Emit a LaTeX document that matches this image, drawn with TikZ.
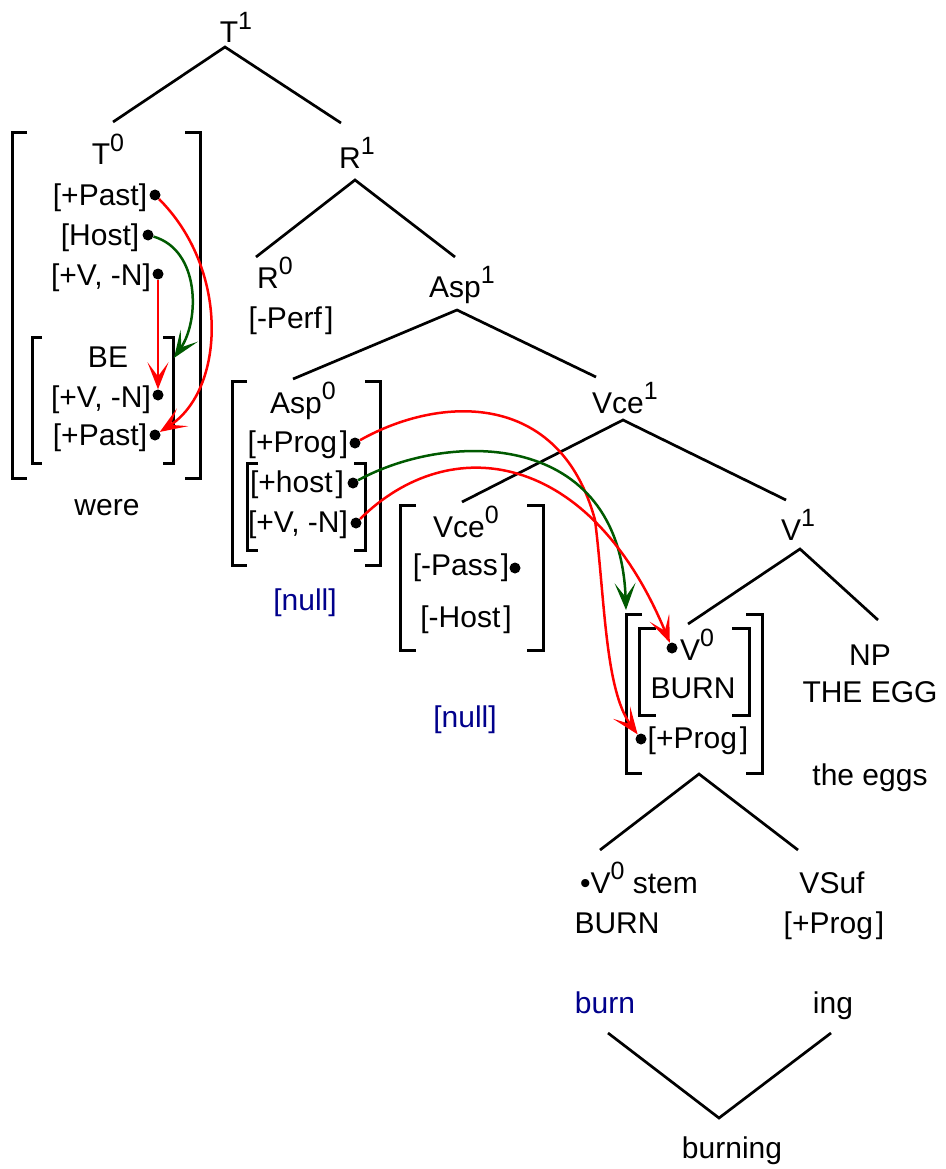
\documentclass[tikz,border=0pt]{standalone}
\usepackage{fontspec}
\setmainfont{Liberation Sans}
\usetikzlibrary{arrows.meta}
\definecolor{arrred}{RGB}{255,0,0}
\definecolor{arrgreen}{RGB}{0,90,0}
\definecolor{nullblue}{RGB}{0,0,140}
% raised index on category labels
\newcommand\hi[1]{\raisebox{0.45em}{\fontsize{25}{25}\selectfont #1}}
% small gap before a closing bracket
\newcommand\gp{\hspace{3pt}}
% square bracket box: left, top, right, bottom, serif length
\newcommand\bbox[5]{%
  \draw[brk] (#1+#5,#2) -- (#1,#2) -- (#1,#4) -- (#1+#5,#4);
  \draw[brk] (#3-#5,#2) -- (#3,#2) -- (#3,#4) -- (#3-#5,#4);}
\tikzset{
  lab/.style={anchor=base, font=\fontsize{30}{36}\selectfont, inner sep=0pt},
  nulllab/.style={lab, text=nullblue},
  edge/.style={line width=2.7pt},
  brk/.style={line width=3pt},
  fdot/.style={circle, fill=black, inner sep=0pt, minimum size=11pt},
  redarr/.style={draw=arrred, line width=2.5pt, -{Stealth[length=27pt, width=21pt, inset=14pt]}},
  greenarr/.style={draw=arrgreen, line width=2.5pt, -{Stealth[length=27pt, width=21pt, inset=14pt]}},
}
\begin{document}
\begin{tikzpicture}[x=1pt,y=-1pt]
\fill[white] (0,0) rectangle (945,1169);
\useasboundingbox (0,0) rectangle (945,1169);

% ---- labels ----
\node[lab] (T1) at (236,43) {T\hi{1}};
\node[lab] (T0) at (108,165) {T\hi{0}};
\node[lab] (tPast) at (100,205) {[+Past]};
\node[lab] (tHost) at (100,245) {[Host]};
\node[lab] (tVN) at (101,285) {[+V, -N]};
\node[lab] (BE) at (108,367) {BE};
\node[lab] (bVN) at (101,407) {[+V, -N]};
\node[lab] (bPast) at (100,445) {[+Past]};
\node[lab] (were) at (107,515) {were};

\node[lab] (R1) at (357,168) {R\hi{1}};
\node[lab] (R0) at (275,288) {R\hi{0}};
\node[lab] (Perf) at (291,328) {[-Perf\gp]};
\node[lab] (Asp1) at (462,297) {Asp\hi{1}};

\node[lab] (Asp0) at (303,413) {Asp\hi{0}};
\node[lab] (aProg) at (298,452) {[+Prog\gp]};
\node[lab] (aHost) at (297,492) {[+host\gp]};
\node[lab] (aVN) at (298,532) {[+V, -N]};
\node[nulllab] (null1) at (305,610) {[null]};

\node[lab] (Vce1) at (625,413) {Vce\hi{1}};
\node[lab] (Vce0) at (466,537) {Vce\hi{0}};
\node[lab] (Pass) at (461,575) {[-Pass\gp]};
\node[lab] (vHost) at (466,627) {[-Host\gp]};
\node[nulllab] (null2) at (465,727) {[null]};

\node[lab] (V1) at (798,540) {V\hi{1}};
\node[lab] (NP) at (870,665) {NP};
\node[lab] (EGG) at (870,702) {THE EGG};
\node[lab] (eggs) at (870,785) {the eggs};

\node[lab] (V0) at (697,660) {V\hi{0}};
\node[lab] (BURNa) at (693,698) {BURN};
\node[lab] (vProg) at (698,748) {[+Prog\gp]};

\node[lab] (stem) at (639,893) {\textbullet V\hi{0} stem};
\node[lab] (BURNb) at (617,933) {BURN};
\node[lab] (VSuf) at (832,893) {VSuf};
\node[lab] (sProg) at (834,933) {[+Prog\gp]};
\node[nulllab] (burn) at (605,1013) {burn};
\node[lab] (ing) at (833,1013) {ing};
\node[lab] (burning) at (732,1158) {burning};

% ---- feature dots ----
\node[fdot] (tPastd) at (155,195) {};
\node[fdot] (tHostd) at (148,235) {};
\node[fdot] (tVNd) at (158,274) {};
\node[fdot] (bVNd) at (158,395) {};
\node[fdot] (bPastd) at (155,435) {};
\node[fdot] (aProgd) at (355,443) {};
\node[fdot] (aHostd) at (353,483) {};
\node[fdot] (aVNd) at (356,523) {};
\node[fdot] (Passd) at (515,568) {};
\node[fdot] (V0d) at (672,648) {};
\node[fdot] (vProgd) at (641,739) {};

% ---- brackets ----
\bbox{12}{133}{200}{478}{15}
\bbox{32}{337}{173}{463}{10}
\bbox{232}{381}{380}{565}{15}
\bbox{247}{463}{365}{550}{11}
\bbox{400}{505}{543}{650}{16}
\bbox{626}{614}{762}{773}{16}
\bbox{639}{628}{749}{715}{17}

% ---- branch points ----
\coordinate (T1a) at (225,47);
\coordinate (T1l) at (113,122);
\coordinate (T1r) at (341,123);
\coordinate (R1a) at (355,180);
\coordinate (R1l) at (256,257);
\coordinate (R1r) at (455,257);
\coordinate (Asp1a) at (457,310);
\coordinate (Asp1l) at (293,379);
\coordinate (Asp1r) at (596,377);
\coordinate (Vce1a) at (623,420);
\coordinate (Vce1l) at (462,502);
\coordinate (Vce1r) at (786,500);
\coordinate (V1a) at (800,549);
\coordinate (V1l) at (688,624);
\coordinate (V1r) at (878,620);
\coordinate (V0a) at (699,774);
\coordinate (V0l) at (600,850);
\coordinate (V0r) at (798,850);
\coordinate (burnb) at (608,1033);
\coordinate (ingb) at (831,1033);
\coordinate (burningt) at (719,1118);

% ---- tree edges ----
\draw[edge] (T1l) -- (T1a) -- (T1r);
\draw[edge] (R1l) -- (R1a) -- (R1r);
\draw[edge] (Asp1l) -- (Asp1a) -- (Asp1r);
\draw[edge] (Vce1l) -- (Vce1a) -- (Vce1r);
\draw[edge] (V1l) -- (V1a) -- (V1r);
\draw[edge] (V0l) -- (V0a) -- (V0r);
\draw[edge] (burnb) -- (burningt) -- (ingb);

% ---- feature movement ----
\coordinate (BEhost) at (174,358);
\coordinate (V0host) at (626,610);
\draw[redarr] (tPastd) .. controls (230,270) and (225,390) .. (bPastd);
\draw[greenarr] (tHostd) .. controls (200,250) and (200,320) .. (BEhost);
\draw[redarr] (tVNd) -- (bVNd);

\draw[redarr] (aProgd) .. controls (440,395) and (560,390) .. (595,520)
  .. controls (605,600) and (605,690) .. (vProgd);
\draw[greenarr] (aHostd) .. controls (450,430) and (620,430) .. (V0host);
\draw[redarr] (aVNd) .. controls (450,430) and (590,450) .. (V0d);
\end{tikzpicture}
\end{document}
